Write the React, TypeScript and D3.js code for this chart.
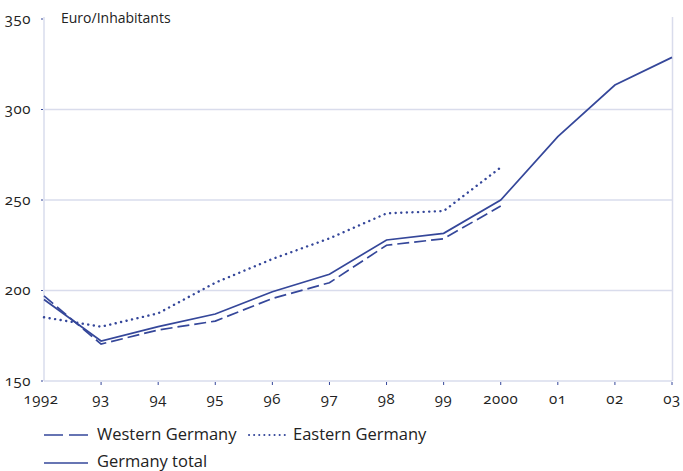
import React from "react";
import * as d3 from "d3";

const years = ["1992", "93", "94", "95", "96", "97", "98", "99", "2000", "01", "02", "03"];
const western: (number | null)[] = [197, 170.4, 178.2, 183.1, 195.6, 204.3, 225, 228.6, 246.7, null, null, null];
const eastern: (number | null)[] = [185.2, 180, 187.4, 204.3, 217.4, 228.8, 242.6, 243.9, 268, null, null, null];
const total: (number | null)[] = [195, 172.1, 180, 187, 199.3, 209, 227.9, 231.6, 250, 285, 313.5, 328.8];
const yTicks = [150, 200, 250, 300, 350];

const W = 683;
const H = 471;
const navy = "#35479a";
const grid = "#d9dcec";
const font = "'Open Sans', 'DejaVu Sans', sans-serif";

export default function App() {
  const x = d3.scalePoint<string>().domain(years).range([44, 672]);
  const y = d3.scaleLinear().domain([150, 350]).range([381, 19]);
  const line = d3
    .line<number | null>()
    .defined((d) => d != null)
    .x((_, i) => x(years[i]) as number)
    .y((d) => y(d as number));

  const numStyle = { fontVariantNumeric: "oldstyle-nums" as const, letterSpacing: "0.6px" };

  return (
    <svg
      width={W}
      height={H}
      style={{ position: "absolute", left: 0, top: 0, fontFamily: font }}
    >
      <rect width={W} height={H} fill="#fff" />
      {yTicks.slice(1, 4).map((t) => (
        <line key={t} x1={44} x2={672} y1={y(t)} y2={y(t)} stroke={grid} strokeWidth={1.5} />
      ))}
      <line x1={44} x2={44} y1={17} y2={381} stroke={grid} strokeWidth={1.5} />
      <line x1={672.5} x2={672.5} y1={17} y2={381} stroke={grid} strokeWidth={1.5} />
      <line x1={44} x2={672} y1={381} y2={381} stroke={grid} strokeWidth={1.5} />
      {yTicks.map((t) => (
        <g key={t}>
          <line x1={41} x2={43} y1={y(t)} y2={y(t)} stroke={navy} strokeWidth={1} />
          <text
            x={31}
            y={y(t)}
            dy="0.3em"
            textAnchor="end"
            fontSize={15}
            fill="#222"
            style={numStyle}
          >
            {t}
          </text>
        </g>
      ))}
      {years.map((yr, i) => (
        <g key={yr}>
          {i > 0 && (
            <line x1={x(yr)} x2={x(yr)} y1={382} y2={385} stroke={navy} strokeWidth={1} />
          )}
          <text
            x={i === 0 ? (x(yr) as number) - 3 : x(yr)}
            y={404}
            textAnchor="middle"
            fontSize={15}
            fill="#222"
            style={numStyle}
          >
            {yr}
          </text>
        </g>
      ))}
      <text x={61} y={23} fontSize={14} fill="#222">
        Euro/Inhabitants
      </text>
      <path d={line(eastern) || ""} fill="none" stroke={navy} strokeWidth={2.4} strokeDasharray="0.1 5.5" strokeLinecap="round" />
      <path d={line(western) || ""} fill="none" stroke={navy} strokeWidth={1.7} strokeDasharray="12 5" />
      <path d={line(total) || ""} fill="none" stroke={navy} strokeWidth={1.7} />

      <g fontSize={16.5} fill="#222">
        <line x1={44} x2={88} y1={435} y2={435} stroke={navy} strokeWidth={1.7} strokeDasharray="19 6" />
        <text x={97} y={439.5}>Western Germany</text>
        <line x1={249} x2={286} y1={435} y2={435} stroke={navy} strokeWidth={2} strokeDasharray="0.1 5" strokeLinecap="round" />
        <text x={293} y={439.5}>Eastern Germany</text>
        <line x1={44} x2={88} y1={463} y2={463} stroke={navy} strokeWidth={1.7} />
        <text x={97} y={467}>Germany total</text>
      </g>
    </svg>
  );
}
